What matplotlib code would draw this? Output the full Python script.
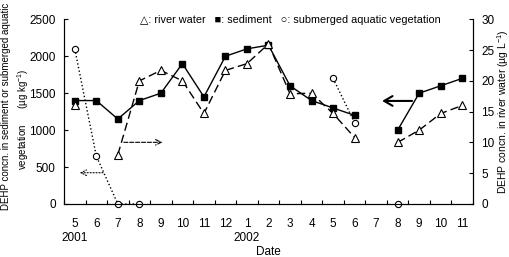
import numpy as np
import matplotlib
matplotlib.use('Agg')
import matplotlib.pyplot as plt

plt.rcParams['font.family'] = ['Liberation Sans', 'DejaVu Sans']
plt.rcParams['mathtext.default'] = 'regular'

nan = np.nan
months = ['5', '6', '7', '8', '9', '10', '11', '12', '1', '2', '3', '4',
          '5', '6', '7', '8', '9', '10', '11']
years = {0: '2001', 8: '2002'}

# sediment, ug/kg (left axis)
sediment = [1400, 1400, 1150, 1400, 1500, 1900, 1450, 2000, 2100, 2150,
            1600, 1400, 1300, 1200, nan, 1000, 1500, 1600, 1700]
# submerged aquatic vegetation, ug/kg (left axis)
vegetation = [2100, 650, 0, 0, nan, nan, nan, nan, nan, nan,
              nan, nan, 1700, 1100, nan, 0, nan, nan, nan]
# river water, ug/L (right axis)
river = [16, nan, 8, 20, 21.7, 20, 14.7, 21.7, 22.8, 26,
         17.9, 18, 14.7, 10.8, nan, 10, 12, 14.7, 16]

x = np.arange(len(months))

fig = plt.figure(figsize=(5.1, 2.57), dpi=100)
ax = fig.add_axes([64 / 510, 53 / 257, 409 / 510, 184.7 / 257])
ax2 = ax.twinx()

ax.plot(x, sediment, '-', color='black', lw=1, marker='s', ms=5,
        mfc='black', mec='black', clip_on=False, zorder=3)
ax.plot(x, vegetation, ':', color='black', lw=1, marker='o', ms=4.5,
        mfc='white', mec='black', mew=0.8, clip_on=False, zorder=4)
ax2.plot(x, river, color='black', lw=1, ls=(0, (6, 3)), marker='^', ms=5.5,
         mfc='white', mec='black', mew=0.8, clip_on=False, zorder=3)

ax.set_xlim(-0.5, 18.5)
ax.set_ylim(0, 2500)
ax2.set_ylim(0, 30)
ax.set_yticks(range(0, 2501, 500))
ax2.set_yticks(range(0, 31, 5))
ax.set_xticks(x)
ax.set_xticklabels(months)
ax.set_xticks(np.arange(-0.5, 18.6, 1), minor=True)

ax.tick_params(axis='x', which='major', length=0, pad=10, labelsize=8.5)
ax.tick_params(axis='x', which='minor', direction='in', length=3, width=0.8)
ax.tick_params(axis='y', direction='in', length=3, width=0.8, pad=6, labelsize=8.5)
ax2.tick_params(axis='y', direction='in', length=3, width=0.8, pad=6, labelsize=8.5)

for a in (ax, ax2):
    a.spines['top'].set_visible(False)
    for s in ('left', 'right', 'bottom'):
        a.spines[s].set_linewidth(0.8)

for i, yr in years.items():
    ax.text(i, -0.185, yr, transform=ax.get_xaxis_transform(), ha='center',
            va='center', fontsize=8.5)
ax.text(0.5, -0.26, 'Date', transform=ax.transAxes, ha='center', va='center',
        fontsize=8.5)

fig.text(6 / 510, 1 - 106 / 257, 'DEHP concn. in sediment or submerged aquatic',
         rotation=90, ha='center', va='center', fontsize=7)
fig.text(23 / 510, 1 - 119 / 257, 'vegetation      (µg kg$^{-1}$)',
         rotation=90, ha='center', va='center', fontsize=7)
fig.text(503 / 510, 1 - 112 / 257, 'DEHP concn. in river water (µg L$^{-1}$)',
         rotation=90, ha='center', va='center', fontsize=7.5)

fig.text(140 / 510, 1 - 20 / 257,
         '△: river water   ■: sediment   ○: submerged aquatic vegetation',
         ha='left', va='center', fontsize=7.8)

# arrows pointing to the axis each series belongs to
ax.annotate('', xy=(0.1, 423), xytext=(1.44, 423),
            arrowprops=dict(arrowstyle='->', ls=':', lw=0.8, color='black'))
ax.annotate('', xy=(4.2, 835), xytext=(2.15, 835),
            arrowprops=dict(arrowstyle='->', ls='--', lw=0.8, color='black'))
ax.annotate('', xy=(14.15, 1395), xytext=(15.8, 1395),
            arrowprops=dict(arrowstyle='->,head_length=0.6,head_width=0.35',
                            lw=1.5, color='black'))

fig.savefig('out.png', dpi=100)
